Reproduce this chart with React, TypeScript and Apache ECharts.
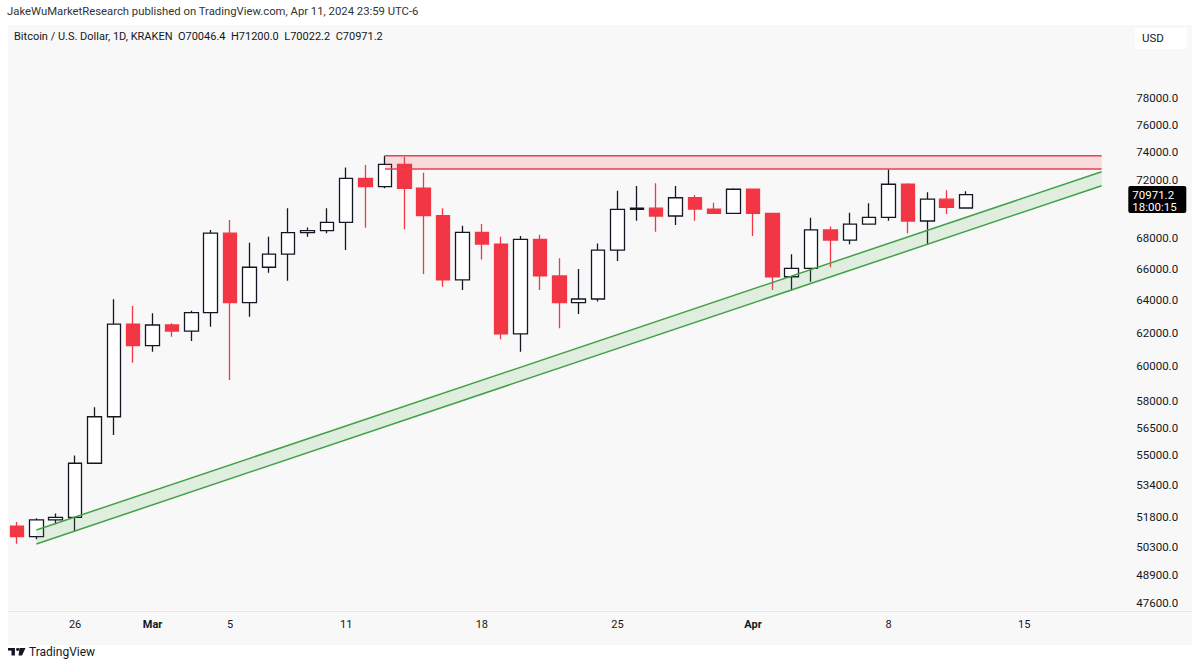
import React, { useEffect, useRef } from "react";
import * as echarts from "echarts";

const FONT = "Roboto, 'Noto Sans', 'Liberation Sans', sans-serif";

const dates: string[] = [
  "2024-02-23", "2024-02-24", "2024-02-25", "2024-02-26", "2024-02-27", "2024-02-28", "2024-02-29",
  "2024-03-01", "2024-03-02", "2024-03-03", "2024-03-04", "2024-03-05", "2024-03-06", "2024-03-07",
  "2024-03-08", "2024-03-09", "2024-03-10", "2024-03-11", "2024-03-12", "2024-03-13", "2024-03-14",
  "2024-03-15", "2024-03-16", "2024-03-17", "2024-03-18", "2024-03-19", "2024-03-20", "2024-03-21",
  "2024-03-22", "2024-03-23", "2024-03-24", "2024-03-25", "2024-03-26", "2024-03-27", "2024-03-28",
  "2024-03-29", "2024-03-30", "2024-03-31", "2024-04-01", "2024-04-02", "2024-04-03", "2024-04-04",
  "2024-04-05", "2024-04-06", "2024-04-07", "2024-04-08", "2024-04-09", "2024-04-10", "2024-04-11",
  "2024-04-12", "2024-04-13", "2024-04-14", "2024-04-15", "2024-04-16", "2024-04-17", "2024-04-18",
  "2024-04-19",
];

const opens: number[] = [
  51320, 50790, 51630, 51760, 54570, 57110, 62530, 61220, 62470, 62100,
  63230, 68340, 63850, 66100, 66960, 68380, 68510, 69070, 72110, 71520,
  73100, 71410, 69520, 65290, 68400, 67620, 61930, 67930, 65540, 63850,
  64080, 67220, 69950, 70030, 69500, 70750, 69970, 69680, 71340, 69680,
  65490, 66030, 68560, 67880, 68950, 69410, 71690, 69160, 70650, 70046.4,
];
const closes: number[] = [
  50790, 51630, 51760, 54570, 57110, 62530, 61220, 62470, 62100, 63230,
  68340, 63850, 66100, 66960, 68380, 68510, 69070, 72110, 71520, 73100,
  71410, 69520, 65290, 68400, 67620, 61930, 67930, 65540, 63850, 64080,
  67220, 69950, 70030, 69500, 70750, 69970, 69680, 71340, 69680, 65490,
  66030, 68560, 67880, 68950, 69410, 71690, 69160, 70650, 70090, 70971.2,
];
const lows: number[] = [
  50440, 50660, 51410, 51040, 54530, 56100, 60210, 60860, 61760, 61500,
  62370, 59200, 62980, 65750, 65240, 68100, 68340, 67220, 68710, 71410,
  68600, 65670, 64860, 64650, 66610, 61600, 60860, 64650, 62270, 63150,
  63920, 66510, 69180, 68440, 68890, 69180, 69650, 69640, 68150, 64650,
  64600, 65170, 66100, 67600, 68900, 69180, 68340, 67560, 69640, 70022.2,
];
const highs: number[] = [
  51530, 51710, 51960, 54980, 57640, 64060, 63640, 63190, 62580, 63350,
  68560, 69220, 67710, 68100, 70020, 68720, 70020, 72880, 73050, 73720,
  73650, 72500, 70020, 68840, 68950, 68100, 68150, 68230, 66680, 65990,
  67660, 71240, 71560, 71760, 71560, 70940, 70410, 71410, 71400, 69720,
  66940, 69380, 68790, 69720, 70370, 72750, 71760, 71130, 71280, 71200.0,
];

const xTickLabels: Record<string, string> = {
  "2024-02-26": "26",
  "2024-03-01": "Mar",
  "2024-03-05": "5",
  "2024-03-11": "11",
  "2024-03-18": "18",
  "2024-03-25": "25",
  "2024-04-01": "Apr",
  "2024-04-08": "8",
  "2024-04-15": "15",
};
const boldTicks = ["Mar", "Apr"];

const priceTicks: number[] = [
  47600, 48900, 50300, 51800, 53400, 55000, 56500, 58000, 60000,
  62000, 64000, 66000, 68000, 72000, 74000, 76000, 78000,
];

// Support channel (upper and lower line), endpoints: [date, price]
const channelStart = "2024-02-24";
const channelEnd = "2024-04-19";
const channelUpper: number[] = [51120, 72570];
const channelLower: number[] = [50430, 71590];

// Resistance zone
const zoneStart = "2024-03-13";
const zoneEnd = "2024-04-19";
const zoneTop = 73720;
const zoneBottom = 72770;

const lastClose = 70971.2;
const countdown = "18:00:15";

export default function App() {
  const ref = useRef<HTMLDivElement | null>(null);

  useEffect(() => {
    if (!ref.current) return;
    const chart = echarts.init(ref.current, undefined, { renderer: "svg" });

    const candleData = opens.map((o, i) => [o, closes[i], lows[i], highs[i]]);
    const ci0 = dates.indexOf(channelStart);
    const ci1 = dates.indexOf(channelEnd);
    const zi0 = dates.indexOf(zoneStart);
    const zi1 = dates.indexOf(zoneEnd);
    const lastIdx = closes.length - 1;

    const option: any = {
      animation: false,
      grid: { left: 7.3, top: 26, width: 1104, height: 584 },
      xAxis: {
        type: "category",
        data: dates,
        boundaryGap: true,
        axisLine: { show: false },
        axisTick: { show: false },
        splitLine: { show: false },
        axisLabel: {
          interval: (_i: number, v: string) => v in xTickLabels,
          formatter: (v: string) => {
            const t = xTickLabels[v] || "";
            return boldTicks.includes(t) ? `{b|${t}}` : t;
          },
          margin: 9,
          fontSize: 11,
          color: "#131722",
          fontFamily: FONT,
          rich: { b: { fontWeight: "bold", fontSize: 11, color: "#131722", fontFamily: FONT } },
        },
      },
      yAxis: {
        type: "log",
        logBase: 10,
        position: "right",
        min: 47275,
        max: 83691,
        splitLine: { show: false },
        axisLine: { show: false },
        axisTick: { show: false },
        axisLabel: {
          customValues: priceTicks,
          formatter: (v: number) => Number(v).toFixed(1),
          color: "#131722",
          fontSize: 11.5,
          fontFamily: FONT,
          align: "left",
          margin: 25,
        },
      },
      series: [
        {
          type: "candlestick",
          data: candleData,
          barWidth: 14,
          z: 2,
          itemStyle: {
            color: "#ffffff",
            color0: "#f23645",
            borderColor: "#131722",
            borderColor0: "#f23645",
            borderWidth: 1.3,
          },
        },
        {
          type: "custom",
          z: 5,
          clip: false,
          data: [[ci0, channelUpper[0], channelLower[0], ci1, channelUpper[1], channelLower[1]]],
          renderItem: (_p: any, api: any) => {
            const u0 = api.coord([api.value(0), api.value(1)]);
            const l0 = api.coord([api.value(0), api.value(2)]);
            const u1 = api.coord([api.value(3), api.value(4)]);
            const l1 = api.coord([api.value(3), api.value(5)]);
            return {
              type: "group",
              children: [
                { type: "polygon", shape: { points: [u0, u1, l1, l0] }, style: { fill: "rgba(76,175,80,0.14)" } },
                { type: "polyline", shape: { points: [u0, u1] }, style: { stroke: "#43a047", lineWidth: 1.5, fill: null } },
                { type: "polyline", shape: { points: [l0, l1] }, style: { stroke: "#43a047", lineWidth: 1.5, fill: null } },
              ],
            };
          },
        },
        {
          type: "custom",
          z: 5,
          clip: false,
          data: [[zi0, zoneTop, zi1, zoneBottom]],
          renderItem: (_p: any, api: any) => {
            const a = api.coord([api.value(0), api.value(1)]);
            const b = api.coord([api.value(2), api.value(3)]);
            return {
              type: "group",
              children: [
                {
                  type: "rect",
                  shape: { x: a[0], y: a[1], width: b[0] - a[0], height: b[1] - a[1] },
                  style: { fill: "rgba(242,54,69,0.15)" },
                },
                { type: "line", shape: { x1: a[0], y1: a[1], x2: b[0], y2: a[1] }, style: { stroke: "#e8414e", lineWidth: 1.5 } },
                { type: "line", shape: { x1: a[0], y1: b[1], x2: b[0], y2: b[1] }, style: { stroke: "#e8414e", lineWidth: 1.5 } },
              ],
            };
          },
        },
        {
          type: "custom",
          z: 6,
          clip: false,
          data: [[lastIdx, lastClose]],
          renderItem: (p: any, api: any) => {
            const pt = api.coord([api.value(0), api.value(1)]);
            const cs = p.coordSys;
            const x = cs.x + cs.width + 17;
            const y = pt[1];
            return {
              type: "group",
              children: [
                { type: "rect", shape: { x, y: y - 8.5, width: 58, height: 27, r: 2 }, style: { fill: "#000000" } },
                {
                  type: "text",
                  style: { x: x + 4, y: y, text: lastClose.toFixed(1), fill: "#ffffff", font: `11.5px ${FONT}`, verticalAlign: "middle" },
                },
                {
                  type: "text",
                  style: { x: x + 4, y: y + 12, text: countdown, fill: "#ffffff", font: `11.5px ${FONT}`, verticalAlign: "middle" },
                },
              ],
            };
          },
        },
      ],
      graphic: [
        { type: "rect", z: -10, silent: true, shape: { x: 8, y: 25, width: 1184, height: 620 }, style: { fill: "#f8f8f8" } },
        { type: "line", z: -5, silent: true, shape: { x1: 8, y1: 611.5, x2: 1192, y2: 611.5 }, style: { stroke: "#e6e6e6", lineWidth: 1 } },
        {
          type: "text",
          left: 7,
          top: 6,
          style: {
            text: "JakeWuMarketResearch published on TradingView.com, Apr 11, 2024 23:59 UTC-6",
            fill: "#333333",
            font: `11.3px ${FONT}`,
          },
        },
        {
          type: "text",
          left: 14,
          top: 31,
          style: {
            text: "Bitcoin / U.S. Dollar, 1D, KRAKEN  O70046.4  H71200.0  L70022.2  C70971.2",
            fill: "#131722",
            font: `11px ${FONT}`,
          },
        },
        { type: "rect", shape: { x: 1135, y: 28, width: 52, height: 21, r: 2 }, style: { fill: "#ffffff" } },
        { type: "text", left: 1142, top: 32, style: { text: "USD", fill: "#131722", font: `11.5px ${FONT}` } },
        // TradingView logo
        { type: "rect", shape: { x: 8, y: 648, width: 7, height: 2.6 }, style: { fill: "#131722" } },
        { type: "rect", shape: { x: 11.5, y: 648, width: 3.4, height: 7.5 }, style: { fill: "#131722" } },
        { type: "circle", shape: { cx: 17.6, cy: 649.4, r: 1.5 }, style: { fill: "#131722" } },
        { type: "polygon", shape: { points: [[19.5, 648], [25.5, 648], [22, 655.5], [18.6, 655.5]] }, style: { fill: "#131722" } },
        { type: "text", left: 29, top: 645.5, style: { text: "TradingView", fill: "#131722", font: `12px ${FONT}` } },
      ],
    };

    chart.setOption(option);
    return () => chart.dispose();
  }, []);

  return (
    <div
      ref={ref}
      style={{ position: "absolute", left: 0, top: 0, width: 1200, height: 667, background: "#ffffff" }}
    />
  );
}
